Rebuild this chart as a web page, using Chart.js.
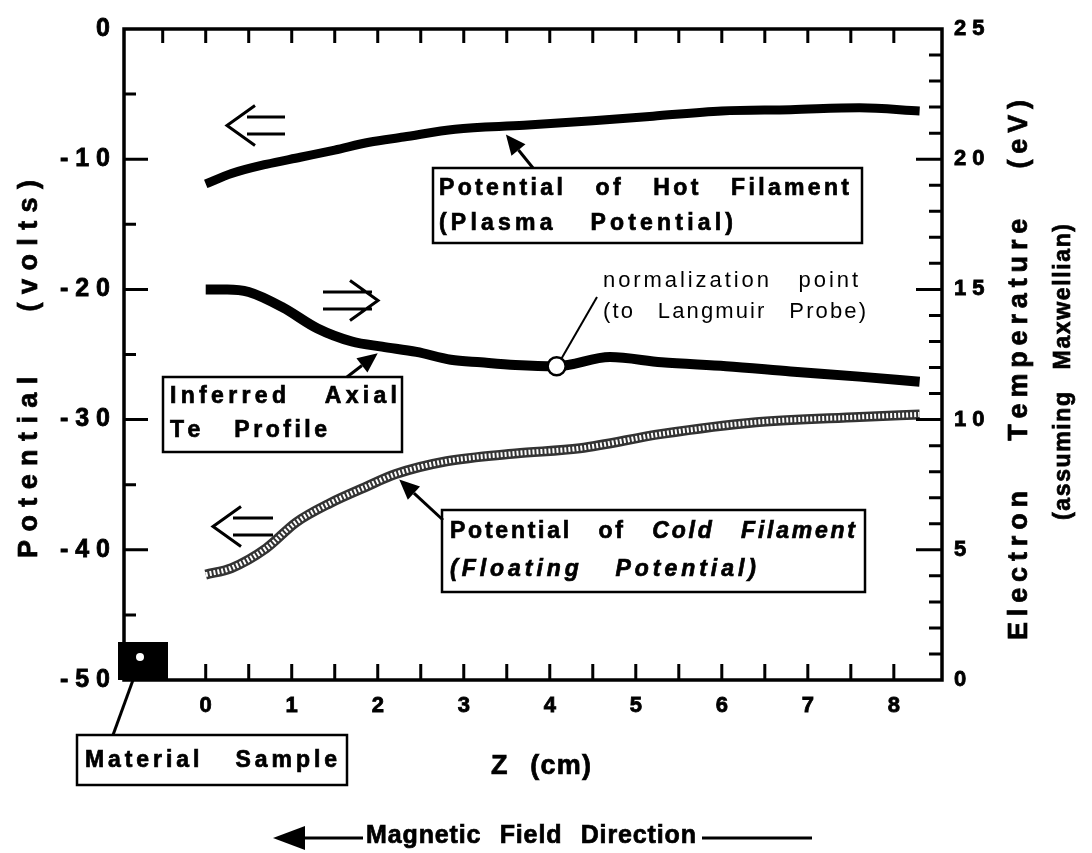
<!DOCTYPE html>
<html>
<head>
<meta charset="utf-8">
<title>Axial potential and Te profile</title>
<script src="https://cdn.jsdelivr.net/npm/chart.js@4.4.1/dist/chart.umd.min.js"></script>
<style>
  html, body { margin: 0; padding: 0; background: #fff; }
  #wrap { width: 1092px; height: 853px; }
</style>
</head>
<body>
<div id="wrap"><canvas id="axialChart"></canvas></div>
<script>
// values
var hot_z = [0, 0.3, 0.7, 1.1, 1.5, 1.9, 2.3, 2.9, 3.7, 4.5, 5.2, 6.0, 6.8, 7.6, 8.3];
var hot_volts = [-11.9, -11.1, -10.4, -9.85, -9.3, -8.7, -8.3, -7.7, -7.4, -7.05, -6.7, -6.3, -6.2, -6.05, -6.3];

var te_z = [0, 0.25, 0.5, 0.9, 1.3, 1.7, 2.05, 2.45, 2.85, 3.2, 3.6, 4.08, 4.7, 5.3, 6.05, 6.8, 7.6, 8.3];
var te_ev = [15.0, 15.0, 14.9, 14.3, 13.5, 13.0, 12.8, 12.6, 12.3, 12.2, 12.1, 12.05, 12.4, 12.2, 12.05, 11.85, 11.65, 11.45];

var cold_z = [0, 0.3, 0.7, 1.05, 1.45, 1.85, 2.2, 2.8, 3.6, 4.35, 5.3, 6.4, 7.6, 8.3];
var cold_volts = [-41.9, -41.4, -39.9, -37.9, -36.4, -35.2, -34.2, -33.2, -32.6, -32.2, -31.1, -30.2, -29.8, -29.6];

var norm_z = [4.08];
var norm_ev = [12.05];

var z_ticks = [0, 1, 2, 3, 4, 5, 6, 7, 8];
var volt_ticks = [0, -10, -20, -30, -40, -50];
var ev_ticks = [0, 5, 10, 15, 20, 25];

var FONT = "'Liberation Sans', Arial, Helvetica, sans-serif";

function pairs(xs, ys) {
  return xs.map(function (x, i) { return { x: x, y: ys[i] }; });
}

function spacedLabel(v) {
  return String(v).split("").join(" ");
}

function setTicks(values) {
  return function (axis) {
    axis.ticks = values.map(function (v) { return { value: v }; });
  };
}

// draw runs of text stretched over a width; spaces take a bigger share of the extra room
function drawRuns(ctx, runs, x, y, width, heavy) {
  var S = 2.5;
  var chars = [];
  runs.forEach(function (r) {
    ctx.font = r.f;
    r.t.split("").forEach(function (c) {
      chars.push({ c: c, f: r.f, w: ctx.measureText(c).width });
    });
  });
  var total = 0, units = 0;
  chars.forEach(function (o, i) {
    total += o.w;
    if (i < chars.length - 1) units += o.c === " " ? S : 1;
  });
  var unit = units ? (width - total) / units : 0;
  var cx = x;
  ctx.lineWidth = 0.7;
  chars.forEach(function (o) {
    ctx.font = o.f;
    if (o.c !== " ") {
      ctx.fillText(o.c, cx, y);
      if (heavy !== false) ctx.strokeText(o.c, cx, y);
    }
    cx += o.w + (o.c === " " ? S : 1) * unit;
  });
}

function drawSpaced(ctx, text, font, x, y, width, heavy) {
  drawRuns(ctx, [{ t: text, f: font }], x, y, width, heavy);
}

function filledArrow(ctx, x1, y1, x2, y2, len, half) {
  var a = Math.atan2(y2 - y1, x2 - x1);
  var bx = x2 - Math.cos(a) * len, by = y2 - Math.sin(a) * len;
  ctx.beginPath();
  ctx.moveTo(x1, y1);
  ctx.lineTo(bx, by);
  ctx.stroke();
  ctx.beginPath();
  ctx.moveTo(x2, y2);
  ctx.lineTo(bx + Math.sin(a) * half, by - Math.cos(a) * half);
  ctx.lineTo(bx - Math.sin(a) * half, by + Math.cos(a) * half);
  ctx.closePath();
  ctx.fill();
}

// hollow "double line" arrow, dir = -1 points left, +1 points right
function doubleArrow(ctx, x1, x2, yTop, yBot, dir) {
  var ym = (yTop + yBot) / 2;
  var tip = dir < 0 ? x1 - 20 : x2 + 6;
  var back = dir < 0 ? x1 + 8 : x2 - 22;
  ctx.lineWidth = 3;
  ctx.beginPath();
  ctx.moveTo(x1, yTop); ctx.lineTo(x2, yTop);
  ctx.moveTo(x1, yBot); ctx.lineTo(x2, yBot);
  ctx.moveTo(back, ym - 20); ctx.lineTo(tip, ym); ctx.lineTo(back, ym + 20);
  ctx.stroke();
}

var decorPlugin = {
  id: "decor",
  afterDraw: function (chart) {
    var ctx = chart.ctx;
    var ca = chart.chartArea;
    var sx = chart.scales.x, sy = chart.scales.y, sy2 = chart.scales.y2;
    var v, px;
    ctx.save();
    ctx.strokeStyle = "#000";
    ctx.fillStyle = "#000";
    ctx.lineCap = "butt";

    // frame
    ctx.lineWidth = 3.5;
    ctx.strokeRect(ca.left, ca.top, ca.right - ca.left, ca.bottom - ca.top);

    // inward ticks
    ctx.lineWidth = 3;
    ctx.beginPath();
    for (v = 0; v <= 8.01; v += 0.5) {
      px = sx.getPixelForValue(v);
      ctx.moveTo(px, ca.bottom); ctx.lineTo(px, ca.bottom - 16);
    }
    for (v = -0.5; v <= 8.01; v += 0.5) {
      px = sx.getPixelForValue(v);
      ctx.moveTo(px, ca.top); ctx.lineTo(px, ca.top + 14);
    }
    for (v = -45; v <= -5; v += 5) {
      px = sy.getPixelForValue(v);
      ctx.moveTo(ca.left, px); ctx.lineTo(ca.left + (v % 10 === 0 ? 24 : 12), px);
    }
    for (v = 1; v <= 24; v += 1) {
      px = sy2.getPixelForValue(v);
      ctx.moveTo(ca.right, px); ctx.lineTo(ca.right - (v % 5 === 0 ? 26 : 13), px);
    }
    ctx.stroke();

    var bold27 = "bold 27px " + FONT;
    var bold25 = "bold 25px " + FONT;
    var bold23 = "bold 23px " + FONT;
    var boldIt23 = "italic bold 23px " + FONT;
    var reg22 = "22px " + FONT;
    ctx.textBaseline = "middle";
    ctx.textAlign = "left";

    // axis titles
    ctx.save();
    ctx.translate(30, 558);
    ctx.rotate(-Math.PI / 2);
    drawSpaced(ctx, "Potential  (volts)", bold27, 0, 0, 378);
    ctx.restore();

    ctx.save();
    ctx.translate(1020, 640);
    ctx.rotate(-Math.PI / 2);
    drawSpaced(ctx, "Electron  Temperature  (eV)", bold27, 0, 0, 540);
    ctx.restore();

    ctx.save();
    ctx.translate(1064, 520);
    ctx.rotate(-Math.PI / 2);
    drawSpaced(ctx, "(assuming  Maxwellian)", bold23, 0, 0, 296);
    ctx.restore();

    drawSpaced(ctx, "Z  (cm)", bold27, 491, 767, 100);

    // magnetic field direction
    ctx.lineWidth = 3;
    filledArrow(ctx, 363, 838, 273, 838, 32, 12);
    drawSpaced(ctx, "Magnetic  Field  Direction", bold25, 366, 836, 330);
    ctx.lineWidth = 3;
    ctx.beginPath(); ctx.moveTo(702, 838); ctx.lineTo(812, 838); ctx.stroke();

    // material sample
    ctx.fillRect(ca.left - 6, 642, 50, 38);
    ctx.fillStyle = "#fff";
    ctx.beginPath(); ctx.arc(140, 657, 4, 0, Math.PI * 2); ctx.fill();
    ctx.fillStyle = "#000";
    ctx.lineWidth = 3;
    ctx.beginPath(); ctx.moveTo(133, 680); ctx.lineTo(113, 735); ctx.stroke();
    ctx.lineWidth = 2.5;
    ctx.strokeRect(77, 735, 270, 50);
    drawSpaced(ctx, "Material  Sample", bold23, 85, 761, 252);

    // hot filament label
    ctx.lineWidth = 2.5;
    ctx.strokeRect(433, 168, 429, 75);
    drawSpaced(ctx, "Potential  of  Hot  Filament", bold23, 439, 189, 410);
    drawSpaced(ctx, "(Plasma  Potential)", bold23, 439, 224, 294);
    ctx.lineWidth = 3;
    filledArrow(ctx, 533, 168, sx.getPixelForValue(3.49), sy.getPixelForValue(-8.1), 20, 9);

    // normalization point
    ctx.lineWidth = 2;
    var nx = sx.getPixelForValue(norm_z[0]), ny = sy2.getPixelForValue(norm_ev[0]);
    ctx.beginPath(); ctx.moveTo(nx + 5, ny - 8); ctx.lineTo(597, 297); ctx.stroke();
    drawSpaced(ctx, "normalization  point", reg22, 603, 281, 255, false);
    drawSpaced(ctx, "(to  Langmuir  Probe)", reg22, 603, 312, 263, false);

    // inferred Te label
    ctx.lineWidth = 2.5;
    ctx.strokeRect(163, 377, 239, 75);
    drawSpaced(ctx, "Inferred  Axial", bold23, 170, 397, 227);
    drawSpaced(ctx, "Te  Profile", bold23, 170, 431, 157);
    ctx.lineWidth = 3;
    filledArrow(ctx, 347, 377, sx.getPixelForValue(2.0), sy2.getPixelForValue(12.55), 20, 9);

    // cold filament label
    ctx.lineWidth = 2.5;
    ctx.strokeRect(442, 510, 423, 82);
    drawRuns(ctx, [{ t: "Potential  of  ", f: bold23 }, { t: "Cold  Filament", f: boldIt23 }], 450, 532, 405);
    drawSpaced(ctx, "(Floating  Potential)", boldIt23, 450, 570, 306);
    ctx.lineWidth = 3;
    filledArrow(ctx, 443, 520, sx.getPixelForValue(2.25), sy.getPixelForValue(-34.6), 20, 9);

    // direction arrows
    doubleArrow(ctx, 247, 285, 117, 134, -1);
    doubleArrow(ctx, 323, 372, 292, 309, 1);
    doubleArrow(ctx, 233, 273, 518, 535, -1);

    ctx.restore();
  }
};

var axialCanvas = document.getElementById("axialChart").getContext("2d");

var lineStyle = {
  pointRadius: 0,
  fill: false,
  cubicInterpolationMode: "monotone",
  borderCapStyle: "butt",
  borderJoinStyle: "round",
};

var tickFont = function (size) {
  return { family: FONT, size: size, weight: "bold" };
};

new Chart(axialCanvas, {
  type: "line",
  data: {
    datasets: [
      {
        label: "Normalization point",
        data: pairs(norm_z, norm_ev),
        yAxisID: "y2",
        showLine: false,
        pointRadius: 9,
        pointBackgroundColor: "#fff",
        pointBorderColor: "#000",
        pointBorderWidth: 2.5,
        order: 0,
      },
      Object.assign({
        label: "Cold filament (texture)",
        data: pairs(cold_z, cold_volts),
        yAxisID: "y",
        borderColor: "#fff",
        borderWidth: 5,
        borderDash: [2, 2],
        order: 1,
      }, lineStyle),
      Object.assign({
        label: "Potential of Cold Filament",
        data: pairs(cold_z, cold_volts),
        yAxisID: "y",
        borderColor: "#333",
        borderWidth: 10,
        order: 2,
      }, lineStyle),
      Object.assign({
        label: "Potential of Hot Filament",
        data: pairs(hot_z, hot_volts),
        yAxisID: "y",
        borderColor: "#000",
        borderWidth: 9,
        order: 3,
      }, lineStyle),
      Object.assign({
        label: "Inferred Axial Te Profile",
        data: pairs(te_z, te_ev),
        yAxisID: "y2",
        borderColor: "#000",
        borderWidth: 10,
        order: 3,
      }, lineStyle),
    ],
  },
  options: {
    responsive: true,
    maintainAspectRatio: false,
    animation: false,
    layout: { padding: { top: 20, left: 0, right: 0, bottom: 0 } },
    plugins: {
      legend: { display: false },
      tooltip: { enabled: false },
    },
    scales: {
      x: {
        type: "linear",
        position: "bottom",
        min: -0.95,
        max: 8.56,
        grid: { display: false, drawTicks: false },
        border: { display: false },
        afterBuildTicks: setTicks(z_ticks),
        afterFit: function (s) { s.height = 173; },
        ticks: {
          color: "#000",
          padding: 13,
          maxRotation: 0,
          textStrokeColor: "#000",
          textStrokeWidth: 0.8,
          font: tickFont(22),
          callback: function (v) { return String(v); },
        },
      },
      y: {
        position: "left",
        min: -50,
        max: 0,
        grid: { display: false, drawTicks: false },
        border: { display: false },
        afterBuildTicks: setTicks(volt_ticks),
        afterFit: function (s) { s.width = 124; },
        ticks: {
          color: "#000",
          padding: 14,
          textStrokeColor: "#000",
          textStrokeWidth: 0.8,
          font: tickFont(25),
          callback: function (v) { return spacedLabel(v); },
        },
      },
      y2: {
        position: "right",
        min: 0,
        max: 25,
        grid: { display: false, drawTicks: false },
        border: { display: false },
        afterBuildTicks: setTicks(ev_ticks),
        afterFit: function (s) { s.width = 150; },
        ticks: {
          color: "#000",
          padding: 12,
          textStrokeColor: "#000",
          textStrokeWidth: 0.8,
          font: tickFont(22),
          callback: function (v) { return spacedLabel(v); },
        },
      },
    },
  },
  plugins: [decorPlugin],
});
</script>
</body>
</html>
